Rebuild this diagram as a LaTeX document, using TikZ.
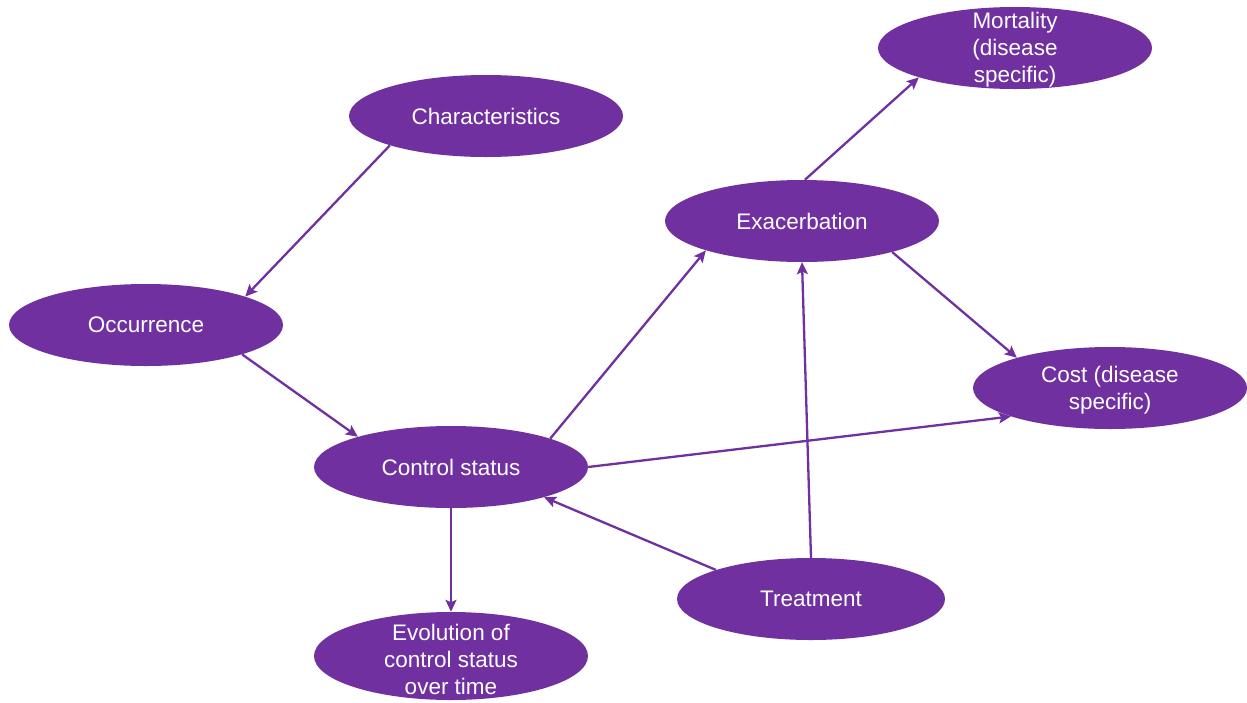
\documentclass[tikz,border=0pt]{standalone}
\usepackage{fontspec}
\setmainfont{Liberation Sans}
\usetikzlibrary{shapes.geometric,arrows.meta}
\definecolor{pur}{HTML}{7030A0}
\begin{document}
\begin{tikzpicture}[x=1pt,y=-1pt,
  ell/.style={ellipse,fill=pur,draw=none,minimum width=274pt,minimum height=82pt,inner sep=0pt},
  txt/.style={text=white,align=center,font=\fontsize{22.5}{27}\selectfont,inner sep=0pt},
  arr/.style={draw=pur,line width=2.3pt,-{Stealth[length=12pt,width=11pt,inset=2.5pt]}}]
\useasboundingbox (0,0) rectangle (1247,702);
% ellipses
\node[ell] (char) at (486,116) {};
\node[ell] (mort) at (1015,48) {};
\node[ell] (exac) at (802,221) {};
\node[ell] (occ) at (146,325) {};
\node[ell] (cost) at (1110,388) {};
\node[ell] (ctrl) at (451,467) {};
\node[ell,minimum width=268pt] (treat) at (811,599) {};
\node[ell,minimum height=88pt] (evol) at (451,656) {};
% texts
\node[txt] (charT) at (char) {Characteristics};
\node[txt] (mortT) at (1015,50) {Mortality\\(disease\\specific)};
\node[txt] (exacT) at (exac) {Exacerbation};
\node[txt] (occT) at (occ) {Occurrence};
\node[txt] (costT) at (1110,390) {Cost (disease\\specific)};
\node[txt] (ctrlT) at (ctrl) {Control status};
\node[txt] (treatT) at (treat) {Treatment};
\node[txt] (evolT) at (451,659) {Evolution of\\control status\\over time};
% connectors
\draw[arr] (char.197.9) -- (occ.16.1);
\draw[arr] (occ.343.9) -- (ctrl.162.6);
\draw[arr] (ctrl.16.6) -- (exac.197.5);
\draw[arr] (exac.86) -- (mort.197.2);
\draw[arr] (exac.341.5) -- (cost.162.6);
\draw[arr] (ctrl.0) -- (cost.196.2);
\draw[arr] (treat.north) -- (exac.south);
\draw[arr] (treat.163.4) -- (ctrl.342.8);
\draw[arr] (ctrl.south) -- (evol.north);
\end{tikzpicture}
\end{document}
